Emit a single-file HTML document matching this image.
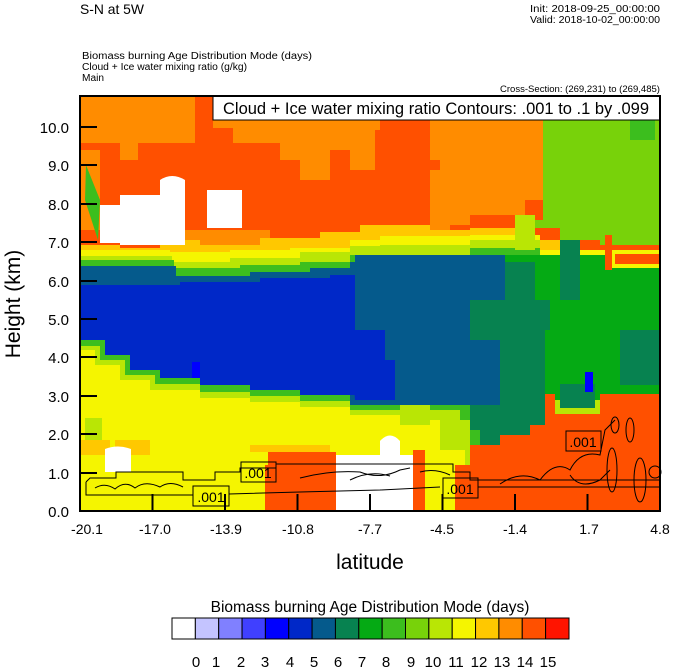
<!DOCTYPE html>
<html><head><meta charset="utf-8"><style>
html,body{margin:0;padding:0;background:#fff;}
svg{display:block;font-family:"Liberation Sans",Arial,sans-serif;}
</style></head><body>
<svg width="674" height="668" viewBox="0 0 674 668" xmlns="http://www.w3.org/2000/svg">
<rect width="674" height="668" fill="#fff"/>
<!-- titles -->
<text x="80" y="14" font-size="14" textLength="64" lengthAdjust="spacingAndGlyphs">S-N at 5W</text>
<text x="660" y="12" font-size="10" text-anchor="end" textLength="130" lengthAdjust="spacingAndGlyphs">Init: 2018-09-25_00:00:00</text>
<text x="660" y="23" font-size="10" text-anchor="end" textLength="130" lengthAdjust="spacingAndGlyphs">Valid: 2018-10-02_00:00:00</text>
<text x="82" y="59" font-size="10" textLength="230" lengthAdjust="spacingAndGlyphs">Biomass burning Age Distribution Mode   (days)</text>
<text x="82" y="70" font-size="10" textLength="165" lengthAdjust="spacingAndGlyphs">Cloud + Ice water mixing ratio   (g/kg)</text>
<text x="82" y="81" font-size="10" textLength="22" lengthAdjust="spacingAndGlyphs">Main</text>
<text x="660" y="92" font-size="9" text-anchor="end" textLength="160" lengthAdjust="spacingAndGlyphs">Cross-Section: (269,231) to (269,485)</text>

<clipPath id="pc"><rect x="80" y="96" width="580" height="415"/></clipPath>
<g clip-path="url(#pc)">
<rect x="80" y="96" width="580" height="415" fill="#ff5000"/>
<path d="M80,96 H213 V128 H233 V143 H280 V160 H300 V180 H330 V150 H355 V96 Z" fill="#ff8c00"/>
<path d="M80,96 V143 H120 V160 H138 V143 H195 V96 Z" fill="#ff8c00"/>
<path d="M350,96 V170 H375 V130 H380 V96 Z" fill="#ff8c00"/>
<path d="M430,96 H545 V200 H525 V215 H470 V225 H450 V230 H430 V170 H440 V160 H430 Z" fill="#ff8c00"/>
<path d="M80,150 H100 V230 H80 Z" fill="#ff8c00"/>
<path d="M160,230 H270 V245 H160 Z" fill="#ff8c00"/>
<path d="M543,96 H660 V245 H600 V240 H560 V228 H530 V220 H543 Z" fill="#78d20a"/>
<path d="M630,96 H655 V140 H630 Z" fill="#3cbe1e"/>
<path d="M80,245 H120 V248 H160 V240 H200 V245 H260 V238 H320 V232 H360 V225 H430 V230 H470 V228 H520 V240 H560 V250 H600 V255 H660 V300 H80 Z" fill="#ffc800"/>
<path d="M80,250 H170 V252 H230 V250 H290 V248 H350 V240 H380 V236 H470 V235 H540 V250 H660 V300 H80 Z" fill="#f5f500"/>
<path d="M80,256 H172 V262 H230 V258 H300 V252 H350 V246 H380 V245 H470 V240 H540 V255 H660 V300 H80 Z" fill="#b9e605"/>
<path d="M80,260 H174 V268 H240 V265 H300 V262 H350 V255 H470 V248 H540 V262 H660 V300 H80 Z" fill="#3cbe1e"/>
<path d="M80,266 H176 V276 H250 V272 H310 V268 H350 V262 H420 V258 H470 V265 H540 V275 H660 V300 H80 Z" fill="#055a8c"/>
<path d="M470,255 H660 V400 H540 V420 H470 Z" fill="#05aa14"/>
<path d="M470,262 H535 V300 H550 V330 H545 V470 H470 Z" fill="#078250"/>
<path d="M560,240 H580 V300 H560 Z" fill="#078250"/>
<path d="M620,330 H660 V385 H620 Z" fill="#078250"/>
<path d="M515,215 H535 V250 H515 Z" fill="#b9e605"/>
<path d="M610,250 H660 V268 H610 Z" fill="#f5f500"/>
<path d="M615,254 H660 V264 H615 Z" fill="#ff5000"/>
<path d="M605,235 H612 V270 H605 Z" fill="#ff5000"/>
<path d="M80,285 H180 V282 H260 V278 H330 V275 H355 V395 H300 V390 H250 V385 H200 V378 H160 V370 H130 V355 H105 V340 H80 Z" fill="#0028c8"/>
<path d="M350,280 H362 V320 H355 V340 H350 Z" fill="#0028c8"/>
<path d="M192,362 H200 V380 H192 Z" fill="#0000ff"/>
<path d="M355,255 H505 V300 H470 V340 H500 V405 H350 V395 H355 Z" fill="#055a8c"/>
<path d="M350,330 H385 V360 H395 V400 H355 Z" fill="#0028c8"/>
<path d="M80,340 H105 V355 H130 V370 H160 V378 H200 V385 H250 V390 H300 V395 H350 V405 H470 V430 H480 V460 H455 V511 H80 Z" fill="#3cbe1e"/>
<path d="M80,346 H100 V360 H125 V375 H155 V384 H200 V392 H250 V396 H300 V401 H350 V410 H460 V430 H470 V465 H455 V511 H80 Z" fill="#b9e605"/>
<path d="M80,350 H95 V365 H120 V380 H150 V390 H200 V398 H250 V402 H300 V407 H350 V415 H410 V420 H450 V445 H465 V465 H455 V511 H80 Z" fill="#f5f500"/>
<path d="M440,420 H470 V450 H440 Z" fill="#b9e605"/>
<path d="M400,405 H430 V425 H400 Z" fill="#b9e605"/>
<path d="M85,418 H102 V445 H85 Z" fill="#b9e605"/>
<path d="M80,440 H110 V455 H80 Z" fill="#ffc800"/>
<path d="M115,440 H150 V455 H130 V470 H115 Z" fill="#ffc800"/>
<path d="M250,445 H330 V452 H250 Z" fill="#ffc800"/>
<path d="M265,465 H268 V452 H336 V511 H265 Z" fill="#ff5000"/>
<path d="M336,455 H380 V441 Q390,430 400,441 V455 H413 V511 H336 Z" fill="#fff"/>
<path d="M413,450 H425 V511 H413 Z" fill="#ff5000"/>
<path d="M455,511 V465 H470 V445 H500 V435 H530 V425 H545 V394 H555 V412 H600 V394 H660 V511 Z" fill="#ff5000"/>
<path d="M555,400 H600 V414 H555 Z" fill="#b9e605"/>
<path d="M560,384 H595 V408 H560 Z" fill="#078250"/>
<path d="M585,372 H593 V392 H585 Z" fill="#0000ff"/>
<path d="M105,449 Q118,444 131,449 V472 H105 Z" fill="#fff"/>
<path d="M100,205 H120 V195 H160 V180 Q172,172 185,180 V245 H120 V243 H100 Z" fill="#fff"/>
<path d="M207,190 H242 V228 H207 Z" fill="#fff"/>
<path d="M86,165 L100,200 L98,240 L85,200 Z" fill="#3cbe1e"/>
</g>
<g fill="none" stroke="#000" stroke-width="1">
<path d="M86,482 L90,478 H116 V472 H183 V480 H215 V472 H240 V468 H276 V464 H453 V472 H470 V480 H660"/>
<path d="M86,482 V495 H193 M229,494 L300,492 L380,490 L440,487 M478,487 H660"/>
<path d="M95,488 Q105,482 115,489 Q125,480 135,488 Q145,480 160,487 Q170,480 183,487"/>
<path d="M300,478 Q330,470 360,472 Q380,480 400,470 L410,468 M350,480 Q370,470 390,476"/>
<path d="M420,472 Q435,468 450,475"/>
<path d="M500,484 Q520,470 540,480 Q555,460 570,470 Q580,450 600,455 L605,430 L615,420"/>
<path d="M570,475 Q580,490 600,480 L610,470"/>
<ellipse cx="615" cy="425" rx="4" ry="8"/>
<ellipse cx="630" cy="430" rx="4" ry="12"/>
<ellipse cx="612" cy="470" rx="5" ry="22"/>
<ellipse cx="640" cy="480" rx="6" ry="22"/>
<ellipse cx="655" cy="472" rx="6" ry="6"/>
</g>
<g font-size="14" text-anchor="middle">
<rect x="193" y="486" width="36" height="20" fill="none" stroke="#000"/><text x="211" y="502">.001</text>
<rect x="241" y="462" width="35" height="20" fill="none" stroke="#000"/><text x="258" y="478">.001</text>
<rect x="443" y="478" width="35" height="20" fill="none" stroke="#000"/><text x="460" y="494">.001</text>
<rect x="566" y="431" width="35" height="20" fill="none" stroke="#000"/><text x="583" y="447">.001</text>
</g>
<rect x="213" y="96" width="447" height="24" fill="#fff" stroke="#000"/>
<text x="436" y="114" font-size="16.5" text-anchor="middle">Cloud + Ice water mixing ratio Contours: .001 to .1 by .099</text>
<rect x="80" y="96" width="580" height="415" fill="none" stroke="#000" stroke-width="2"/>
<g stroke="#000" stroke-width="2">
<line x1="80" y1="511" x2="97" y2="511"/><line x1="80" y1="473" x2="97" y2="473"/><line x1="80" y1="434" x2="97" y2="434"/>
<line x1="80" y1="396" x2="97" y2="396"/><line x1="80" y1="357" x2="97" y2="357"/><line x1="80" y1="319" x2="97" y2="319"/>
<line x1="80" y1="281" x2="97" y2="281"/><line x1="80" y1="242" x2="97" y2="242"/><line x1="80" y1="204" x2="97" y2="204"/>
<line x1="80" y1="165" x2="97" y2="165"/><line x1="80" y1="127" x2="97" y2="127"/>
<line x1="152.5" y1="511" x2="152.5" y2="494"/><line x1="225" y1="511" x2="225" y2="494"/><line x1="297.5" y1="511" x2="297.5" y2="494"/>
<line x1="370" y1="511" x2="370" y2="494"/><line x1="442.5" y1="511" x2="442.5" y2="494"/><line x1="515" y1="511" x2="515" y2="494"/>
<line x1="587.5" y1="511" x2="587.5" y2="494"/>
</g>
<g font-size="15" text-anchor="end">
<text x="69" y="517">0.0</text><text x="69" y="479">1.0</text><text x="69" y="440">2.0</text><text x="69" y="402">3.0</text>
<text x="69" y="363">4.0</text><text x="69" y="325">5.0</text><text x="69" y="287">6.0</text><text x="69" y="248">7.0</text>
<text x="69" y="210">8.0</text><text x="69" y="171">9.0</text><text x="69" y="133">10.0</text>
</g>
<g font-size="14" text-anchor="middle">
<text x="87" y="534">-20.1</text><text x="155" y="534">-17.0</text><text x="226" y="534">-13.9</text><text x="298" y="534">-10.8</text>
<text x="370" y="534">-7.7</text><text x="442" y="534">-4.5</text><text x="515" y="534">-1.4</text><text x="589" y="534">1.7</text><text x="660" y="534">4.8</text>
</g>
<text x="370" y="569" font-size="21" text-anchor="middle">latitude</text>
<text transform="translate(20,304) rotate(-90)" font-size="21" text-anchor="middle">Height (km)</text>
<text x="370" y="612" font-size="15.5" text-anchor="middle">Biomass burning Age Distribution Mode  (days)</text>
<g stroke="#000" stroke-width="1">
<rect x="172" y="618" width="23.35" height="21" fill="#ffffff"/>
<rect x="195.35" y="618" width="23.35" height="21" fill="#c4c4ff"/>
<rect x="218.7" y="618" width="23.35" height="21" fill="#8080ff"/>
<rect x="242.05" y="618" width="23.35" height="21" fill="#4040ff"/>
<rect x="265.4" y="618" width="23.35" height="21" fill="#0000ff"/>
<rect x="288.75" y="618" width="23.35" height="21" fill="#0028c8"/>
<rect x="312.1" y="618" width="23.35" height="21" fill="#055a8c"/>
<rect x="335.45" y="618" width="23.35" height="21" fill="#078250"/>
<rect x="358.8" y="618" width="23.35" height="21" fill="#05aa14"/>
<rect x="382.15" y="618" width="23.35" height="21" fill="#3cbe1e"/>
<rect x="405.5" y="618" width="23.35" height="21" fill="#78d20a"/>
<rect x="428.85" y="618" width="23.35" height="21" fill="#b9e605"/>
<rect x="452.2" y="618" width="23.35" height="21" fill="#f5f500"/>
<rect x="475.55" y="618" width="23.35" height="21" fill="#ffc800"/>
<rect x="498.9" y="618" width="23.35" height="21" fill="#ff8c00"/>
<rect x="522.25" y="618" width="23.35" height="21" fill="#ff5000"/>
<rect x="545.6" y="618" width="23.4" height="21" fill="#ff1400"/>
</g>
<g font-size="15" text-anchor="middle">
<text x="196" y="667">0</text><text x="216" y="667">1</text><text x="241" y="667">2</text><text x="265" y="667">3</text>
<text x="290" y="667">4</text><text x="314" y="667">5</text><text x="338" y="667">6</text><text x="362" y="667">7</text>
<text x="386" y="667">8</text><text x="411" y="667">9</text><text x="433" y="667">10</text><text x="456" y="667">11</text>
<text x="479" y="667">12</text><text x="502" y="667">13</text><text x="525" y="667">14</text><text x="548" y="667">15</text>
</g>
</svg>
</body></html>
